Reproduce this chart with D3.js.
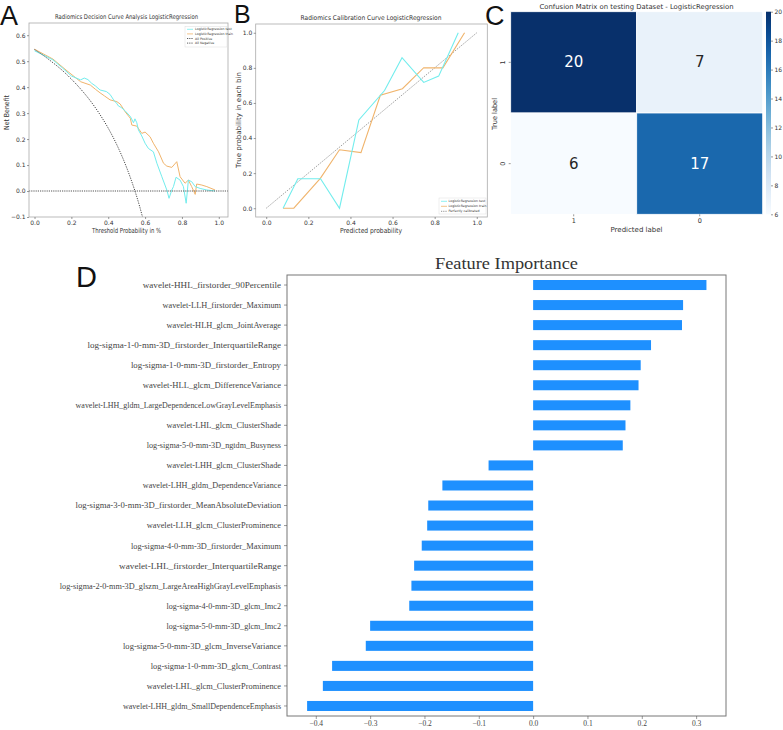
<!DOCTYPE html>
<html><head><meta charset="utf-8">
<script src="https://cdn.jsdelivr.net/npm/d3@7"></script>
<style>body{margin:0;background:#fff}</style>
</head><body><svg id="c" width="783" height="730" font-family="DejaVu Sans"></svg>
<script>
// ---------- Panel A : decision curve ----------
const dcaTestT  = [0,0.05,0.10,0.15,0.20,0.25,0.27,0.29,0.31,0.33,0.356,0.39,0.41,0.43,0.445,0.456,0.47,0.49,0.52,0.537,0.545,0.555,0.564,0.582,0.60,0.618,0.645,0.664,0.691,0.718,0.73,0.745,0.754,0.768,0.79,0.808,0.823,0.83,0.835,0.853,0.872,0.899,0.935,0.98];
const dcaTestNB = [0.540,0.523,0.505,0.475,0.443,0.428,0.435,0.429,0.415,0.405,0.389,0.383,0.372,0.350,0.338,0.327,0.322,0.310,0.287,0.263,0.278,0.263,0.235,0.212,0.184,0.164,0.151,0.107,0.055,0.004,-0.028,0.004,0.017,0.053,0.042,0.017,-0.047,0.004,0.042,0.036,0.017,0.010,0.004,0.0];
const dcaTrainT  = [0,0.05,0.10,0.176,0.25,0.303,0.33,0.356,0.38,0.41,0.447,0.465,0.492,0.52,0.528,0.555,0.582,0.60,0.627,0.645,0.673,0.70,0.718,0.745,0.772,0.79,0.817,0.835,0.853,0.872,0.88,0.908,0.935,0.98];
const dcaTrainNB = [0.546,0.527,0.508,0.463,0.421,0.408,0.392,0.378,0.366,0.351,0.344,0.335,0.305,0.28,0.254,0.25,0.222,0.227,0.209,0.184,0.151,0.107,0.096,0.091,0.113,0.055,0.03,0.042,0.017,-0.013,0.027,0.023,0.017,0.004];
const allPosT  = [0,0.05,0.10,0.15,0.20,0.25,0.30,0.35,0.40,0.45,0.50,0.525,0.55,0.57,0.586];
const allPosNB = [0.545,0.521,0.494,0.465,0.431,0.393,0.350,0.300,0.242,0.173,0.090,0.042,-0.011,-0.058,-0.1];
const dcaXTicks = [0,0.2,0.4,0.6,0.8,1.0];
const dcaYTicks = [-0.1,0,0.1,0.2,0.3,0.4,0.5,0.6];
const dcaLegend = ["LogisticRegression test","LogisticRegression train","All Positive","All Negative"];

// ---------- Panel B : calibration ----------
const calTestX  = [0.08,0.15,0.258,0.348,0.44,0.562,0.645,0.748,0.819,0.912];
const calTestY  = [0,0.168,0.168,0,0.503,0.671,0.858,0.717,0.753,1.0];
const calTrainX = [0.08,0.131,0.257,0.348,0.45,0.542,0.647,0.748,0.839,0.942];
const calTrainY = [0,0,0.17,0.333,0.317,0.644,0.681,0.801,0.8,1.0];
const calTicks  = [0,0.2,0.4,0.6,0.8,1.0];
const calLegend = ["LogisticRegression test","LogisticRegression train","Perfectly calibrated"];

// ---------- Panel C : confusion matrix ----------
const cmLabels = ["1","0"];
const cmValues = [[20,7],[6,17]];
const cbTicks  = [6,8,10,12,14,16,18,20];

// ---------- Panel D : feature importance ----------
const features = [
"wavelet-HHL_firstorder_90Percentile",
"wavelet-LLH_firstorder_Maximum",
"wavelet-HLH_glcm_JointAverage",
"log-sigma-1-0-mm-3D_firstorder_InterquartileRange",
"log-sigma-1-0-mm-3D_firstorder_Entropy",
"wavelet-HLL_glcm_DifferenceVariance",
"wavelet-LHH_gldm_LargeDependenceLowGrayLevelEmphasis",
"wavelet-LHL_glcm_ClusterShade",
"log-sigma-5-0-mm-3D_ngtdm_Busyness",
"wavelet-LHH_glcm_ClusterShade",
"wavelet-LHH_gldm_DependenceVariance",
"log-sigma-3-0-mm-3D_firstorder_MeanAbsoluteDeviation",
"wavelet-LLH_glcm_ClusterProminence",
"log-sigma-4-0-mm-3D_firstorder_Maximum",
"wavelet-LHL_firstorder_InterquartileRange",
"log-sigma-2-0-mm-3D_glszm_LargeAreaHighGrayLevelEmphasis",
"log-sigma-4-0-mm-3D_glcm_Imc2",
"log-sigma-5-0-mm-3D_glcm_Imc2",
"log-sigma-5-0-mm-3D_glcm_InverseVariance",
"log-sigma-1-0-mm-3D_glcm_Contrast",
"wavelet-LHL_glcm_ClusterProminence",
"wavelet-LHH_gldm_SmallDependenceEmphasis"];
const importance = [0.319,0.276,0.274,0.217,0.198,0.194,0.179,0.170,0.165,-0.082,-0.167,-0.193,-0.195,-0.205,-0.219,-0.224,-0.228,-0.300,-0.308,-0.370,-0.387,-0.416];
const fiTicks = [-0.4,-0.3,-0.2,-0.1,0,0.1,0.2,0.3];

const svg = d3.select("#c");
svg.append("rect").attr("width",783).attr("height",730).attr("fill","#fff");
const CY = "#72eded", OR = "#f0b46c", TXT = "#333";

function label(s, x, y, size, opts={}) {
  const t = svg.append("text").attr("x",x).attr("y",y).text(s)
    .attr("font-size",size).attr("fill",opts.fill||TXT)
    .attr("text-anchor",opts.anchor||"middle");
  if (!opts.alpha) t.attr("dominant-baseline","central");
  t.attr("font-family",opts.family||"DejaVu Sans");
  if (opts.len) t.attr("textLength",opts.len).attr("lengthAdjust","spacingAndGlyphs");
  if (opts.rot) t.attr("transform",`rotate(${opts.rot},${x},${y})`);
  return t;
}
function styleAxis(g, size) {
  g.select(".domain").remove();
  g.selectAll(".tick line").attr("stroke","#555").attr("stroke-width",0.6);
  g.selectAll(".tick text").attr("font-size",size).attr("fill",TXT).attr("font-family","DejaVu Sans");
}

// panel letters
label("A",0,25,27,{anchor:"start",family:"Liberation Sans",fill:"#111",alpha:true});
label("B",234,23,25,{anchor:"start",family:"Liberation Sans",fill:"#111",alpha:true});
label("C",485,25,27,{anchor:"start",family:"Liberation Sans",fill:"#111",alpha:true});
label("D",76,287,29,{anchor:"start",family:"Liberation Sans",fill:"#111",alpha:true});

// ================= Panel A =================
{
  const L=29,R=228,T=23,B=217;
  const x = d3.scaleLinear().domain([-0.03,1.05]).range([L,R]);
  const y = d3.scaleLinear().domain([-0.1,0.647]).range([B,T]);
  svg.append("clipPath").attr("id","clipA").append("rect").attr("x",L).attr("y",T).attr("width",R-L).attr("height",B-T);
  const g = svg.append("g").attr("clip-path","url(#clipA)");
  const line = d3.line().x(d=>x(d[0])).y(d=>y(d[1]));
  g.append("path").datum(d3.zip(dcaTrainT,dcaTrainNB)).attr("d",line).attr("fill","none").attr("stroke",OR).attr("stroke-width",1);
  g.append("path").datum(d3.zip(dcaTestT,dcaTestNB)).attr("d",line).attr("fill","none").attr("stroke",CY).attr("stroke-width",1);
  g.append("path").datum(d3.zip(allPosT,allPosNB)).attr("d",line.curve(d3.curveMonotoneX)).attr("fill","none").attr("stroke","#333").attr("stroke-width",0.9).attr("stroke-dasharray","1.2,1.2");
  g.append("line").attr("x1",L).attr("x2",R).attr("y1",y(0)).attr("y2",y(0)).attr("stroke","#555").attr("stroke-width",1.1).attr("stroke-dasharray","1.2,1");
  svg.append("rect").attr("x",L).attr("y",T).attr("width",R-L).attr("height",B-T).attr("fill","none").attr("stroke","#aaa").attr("stroke-width",0.8);
  const ax = svg.append("g").attr("transform",`translate(0,${B})`).call(d3.axisBottom(x).tickValues(dcaXTicks).tickSize(2).tickPadding(1.5).tickFormat(d3.format(".1f")));
  styleAxis(ax,6);
  const ay = svg.append("g").attr("transform",`translate(${L},0)`).call(d3.axisLeft(y).tickValues(dcaYTicks).tickSize(2).tickPadding(1.5).tickFormat(d3.format(".1f")));
  styleAxis(ay,6);
  label("Radiomics Decision Curve Analysis LogisticRegression",126.5,17,6.5,{len:143});
  label("Threshold Probability in %",126.5,231,7,{len:69});
  label("Net Benefit",6.5,112.5,7,{len:35,rot:-90});
  // legend
  svg.append("rect").attr("x",185).attr("y",26.5).attr("width",42).attr("height",20.5).attr("fill","#fff").attr("stroke","#ddd").attr("stroke-width",0.5);
  const cols=[CY,OR,"#333","#333"];
  dcaLegend.forEach((s,i)=>{
    const yy=29.3+i*4.6;
    svg.append("line").attr("x1",187).attr("x2",193).attr("y1",yy).attr("y2",yy).attr("stroke",cols[i]).attr("stroke-width",0.8).attr("stroke-dasharray",i>1?"1,0.8":null);
    label(s,195,yy,3.2,{anchor:"start"});
  });
}

// ================= Panel B =================
{
  const L=255.7,R=487.3,T=24,B=217;
  const x = d3.scaleLinear().domain([-0.05,1.05]).range([L,R]);
  const y = d3.scaleLinear().domain([-0.05,1.05]).range([B,T]);
  const line = d3.line().x(d=>x(d[0])).y(d=>y(d[1]));
  svg.append("line").attr("x1",x(0)).attr("y1",y(0)).attr("x2",x(1)).attr("y2",y(1)).attr("stroke","#777").attr("stroke-width",0.7).attr("stroke-dasharray","1.5,1.2");
  svg.append("path").datum(d3.zip(calTrainX,calTrainY)).attr("d",line).attr("fill","none").attr("stroke",OR).attr("stroke-width",1.1);
  svg.append("path").datum(d3.zip(calTestX,calTestY)).attr("d",line).attr("fill","none").attr("stroke",CY).attr("stroke-width",1.1);
  svg.append("rect").attr("x",L).attr("y",T).attr("width",R-L).attr("height",B-T).attr("fill","none").attr("stroke","#aaa").attr("stroke-width",0.8);
  const ax = svg.append("g").attr("transform",`translate(0,${B})`).call(d3.axisBottom(x).tickValues(calTicks).tickSize(2).tickPadding(1.5).tickFormat(d3.format(".1f")));
  styleAxis(ax,6);
  const ay = svg.append("g").attr("transform",`translate(${L},0)`).call(d3.axisLeft(y).tickValues(calTicks).tickSize(2).tickPadding(1.5).tickFormat(d3.format(".1f")));
  styleAxis(ay,6);
  label("Radiomics Calibration Curve LogisticRegression",371,18,6.5,{len:141});
  label("Predicted probability",371,231,7,{len:62});
  label("True probability in each bin",238.5,120,7,{len:96,rot:-90});
  svg.append("rect").attr("x",439).attr("y",198).attr("width",47).attr("height",16).attr("fill","#fff").attr("stroke","#ddd").attr("stroke-width",0.5);
  const cols=[CY,OR,"#777"];
  calLegend.forEach((s,i)=>{
    const yy=201.3+i*5;
    svg.append("line").attr("x1",441).attr("x2",447).attr("y1",yy).attr("y2",yy).attr("stroke",cols[i]).attr("stroke-width",0.8).attr("stroke-dasharray",i==2?"1,0.8":null);
    label(s,448.5,yy,3.2,{anchor:"start"});
  });
}

// ================= Panel C =================
{
  const L=510.7,R=762.7,T=11.7,B=214.3;
  const x = d3.scaleBand().domain(cmLabels).range([L,R]);
  const y = d3.scaleBand().domain(cmLabels).range([T,B]);
  const color = d3.scaleSequential(d3.interpolateBlues).domain([6,20]);
  const cells = [];
  cmLabels.forEach((r,i)=>cmLabels.forEach((c,j)=>cells.push({r,c,v:cmValues[i][j]})));
  svg.selectAll(".cell").data(cells).enter().append("rect")
    .attr("x",d=>x(d.c)).attr("y",d=>y(d.r)).attr("width",x.bandwidth()).attr("height",y.bandwidth())
    .attr("fill",d=>color(d.v)).attr("stroke","#fff").attr("stroke-width",0.8);
  cells.forEach(d=>label(String(d.v),x(d.c)+x.bandwidth()/2,y(d.r)+y.bandwidth()/2,15,{fill:d.v>13?"#fff":"#262626"}));
  const ax = svg.append("g").attr("transform",`translate(0,${B})`).call(d3.axisBottom(x).tickSize(2).tickPadding(2));
  styleAxis(ax,6.5);
  const ay = svg.append("g").attr("transform",`translate(${L},0)`).call(d3.axisLeft(y).tickSize(2).tickPadding(2));
  styleAxis(ay,6.5);
  ay.selectAll(".tick text").attr("transform","rotate(-90)").attr("text-anchor","middle").attr("x",0).attr("y",-6).attr("dy","0");
  label("Confusion Matrix on testing Dataset - LogisticRegression",636.5,6.5,6.8,{len:194});
  label("Predicted label",636.5,230,7,{len:52});
  label("True label",495,114,7,{len:32,rot:-90});
  // colorbar
  const cb = d3.scaleLinear().domain([6,20]).range([B,T]);
  const defs = svg.append("defs");
  const grad = defs.append("linearGradient").attr("id","cbg").attr("x1",0).attr("y1",1).attr("x2",0).attr("y2",0);
  d3.range(0,1.0001,0.1).forEach(t=>grad.append("stop").attr("offset",t).attr("stop-color",d3.interpolateBlues(t)));
  svg.append("rect").attr("x",766).attr("y",T).attr("width",5).attr("height",B-T).attr("fill","url(#cbg)");
  const ac = svg.append("g").attr("transform","translate(771,0)").call(d3.axisRight(cb).tickValues(cbTicks).tickSize(2).tickPadding(1.5));
  styleAxis(ac,6);
}

// ================= Panel D =================
{
  const L=287,R=726,T=275,B=716;
  const x = d3.scaleLinear().domain([-0.453,0.355]).range([L,R]);
  const y = d3.scaleBand().domain(features).range([T,B]).paddingInner(0.5).paddingOuter(0.25);
  svg.selectAll(".bar").data(features).enter().append("rect")
    .attr("x",(d,i)=>x(Math.min(0,importance[i]))).attr("y",d=>y(d))
    .attr("width",(d,i)=>Math.abs(x(importance[i])-x(0))).attr("height",y.bandwidth())
    .attr("fill","#1e90ff");
  svg.append("rect").attr("x",L).attr("y",T).attr("width",R-L).attr("height",B-T).attr("fill","none").attr("stroke","#777").attr("stroke-width",1);
  const ax = svg.append("g").attr("transform",`translate(0,${B})`).call(d3.axisBottom(x).tickValues(fiTicks).tickSize(3).tickPadding(2).tickFormat(d3.format(".1f")));
  styleAxis(ax,7.5);
  ax.selectAll(".tick text").attr("font-family","Liberation Serif").attr("fill","#444");
  const ay = svg.append("g").attr("transform",`translate(${L},0)`).call(d3.axisLeft(y).tickSize(3).tickPadding(3));
  styleAxis(ay,9);
  ay.selectAll(".tick text").attr("font-family","Liberation Serif").attr("fill","#444")
    .attr("textLength",d=>d.length*3.95).attr("lengthAdjust","spacingAndGlyphs");
  label("Feature Importance",506.5,263,16,{family:"Liberation Serif",len:143,fill:"#333"});
}
</script></body></html>
